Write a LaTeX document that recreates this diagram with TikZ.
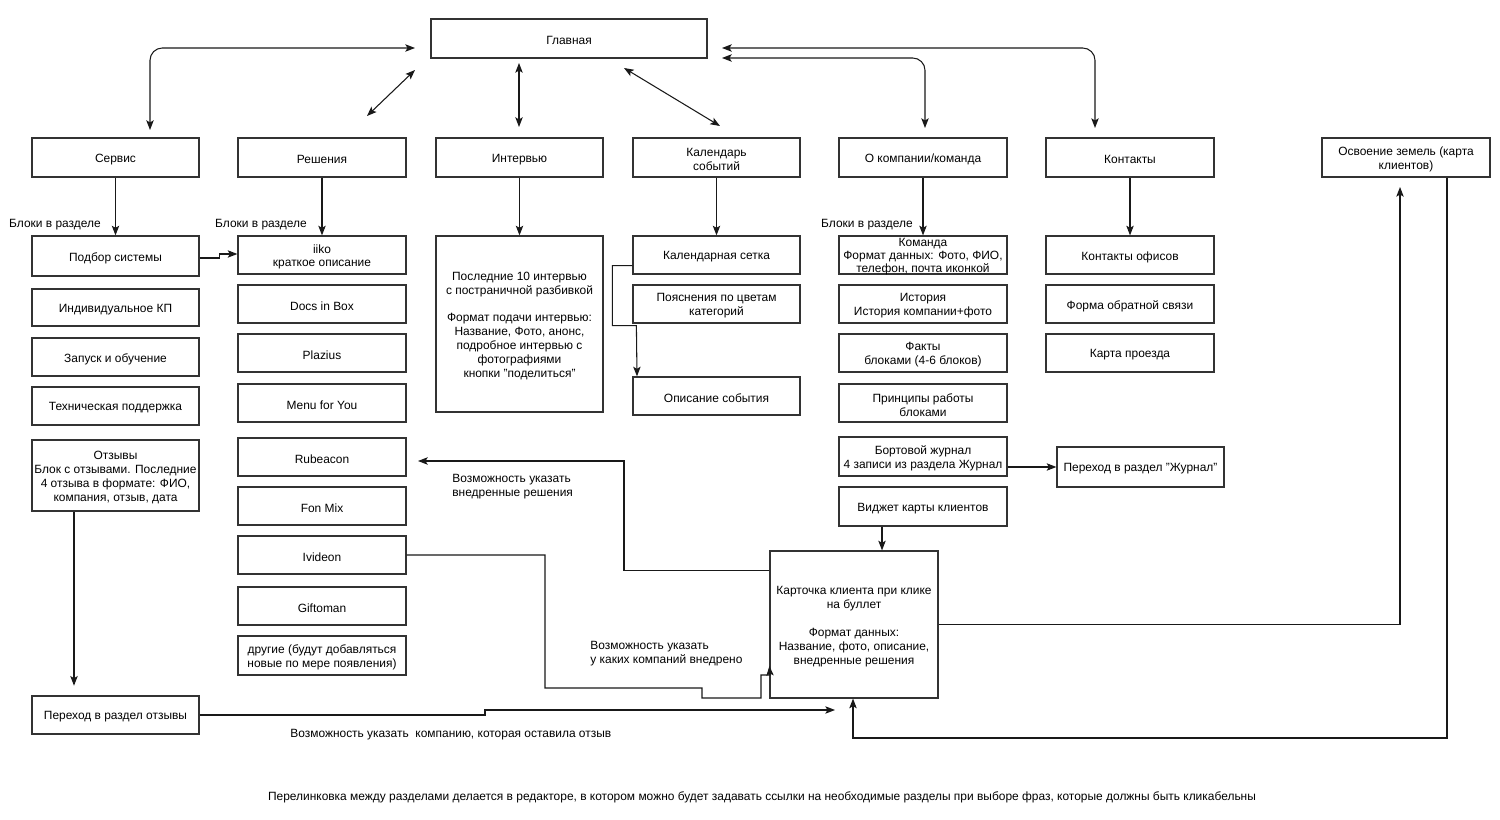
\documentclass[tikz,border=0pt]{standalone}
\usepackage{fontspec}
\setmainfont{Liberation Sans}
\usetikzlibrary{arrows.meta,calc}
\tikzset{
  box/.style={draw=black!80,line width=0.7pt,inner sep=0pt,fill=white},
  txt/.style={inner sep=0pt,align=center},
  conn/.style={line width=0.6pt,draw=black!90},
  lbl/.style={inner sep=0pt,align=left},
  >={Stealth[length=5.5pt,width=4.2pt,inset=1.2pt]}
}
\newcommand\bx[7][]{%
  \node[box,minimum width={(#5-#3)*0.02cm},minimum height={(#6-#4)*0.02cm}] (#2) at ({(#3+#5)/2},{(#4+#6)/2}) {};
  \node[txt,#1] (#2t) at ([yshift=-1.1pt]#2.center) {#7};}
\begin{document}
\begin{tikzpicture}[x=0.02cm,y=-0.02cm,font=\fontsize{6.8}{7.9}\selectfont]
\useasboundingbox[fill=white] (0,0) rectangle (1500,820);
% main
\bx{main}{431}{19}{707}{58}{Главная}
% headers
\bx{srv}{32}{138}{199}{177}{Сервис}
\bx{res}{238}{138}{406}{177}{Решения}
\bx{int}{436}{138}{603}{177}{Интервью}
\bx{cal}{633}{138}{800}{177}{Календарь\\событий}
\bx{abt}{839}{138}{1007}{177}{О компании/команда}
\bx{con}{1046}{138}{1214}{177}{Контакты}
\bx{osv}{1322}{138}{1490}{177}{Освоение земель (карта\\клиентов)}
% service
\bx{s1}{32}{236}{199}{276}{Подбор системы}
\bx{s2}{32}{289}{199}{326}{Индивидуальное КП}
\bx{s3}{32}{338}{199}{376}{Запуск и обучение}
\bx{s4}{32}{387}{199}{425}{Техническая поддержка}
\bx{s5}{32}{440}{199}{511}{Отзывы\\Блок с отзывами. Последние\\4 отзыва в формате: ФИО,\\компания, отзыв, дата}
\bx{s6}{32}{696}{199}{734}{Переход в раздел отзывы}
% solutions
\bx{r1}{238}{236}{406}{274}{iiko\\краткое описание}
\bx{r2}{238}{285}{406}{323}{Docs in Box}
\bx{r3}{238}{334}{406}{372}{Plazius}
\bx{r4}{238}{384}{406}{422}{Menu for You}
\bx{r5}{238}{438}{406}{476}{Rubeacon}
\bx{r6}{238}{487}{406}{525}{Fon Mix}
\bx{r7}{238}{536}{406}{574}{Ivideon}
\bx{r8}{238}{587}{406}{625}{Giftoman}
\bx{r9}{238}{636}{406}{675}{другие (будут добавляться\\новые по мере появления)}
% interview
\bx{i1}{436}{236}{603}{412}{Последние 10 интервью\\с постраничной разбивкой\\[7.9pt]Формат подачи интервью:\\Название, Фото, анонс,\\подробное интервью с\\фотографиями\\кнопки "поделиться"}
% calendar
\bx{c1}{633}{236}{800}{274}{Календарная сетка}
\bx{c2}{633}{285}{800}{323}{Пояснения по цветам\\категорий}
\bx{c3}{633}{377}{800}{415}{Описание события}
% about
\bx[font=\fontsize{6.8}{7.5}\selectfont]{a1}{839}{236}{1007}{274}{Команда\\Формат данных: Фото, ФИО,\\телефон, почта иконкой}
\bx{a2}{839}{285}{1007}{323}{История\\История компании+фото}
\bx{a3}{839}{334}{1007}{372}{Факты\\блоками (4-6 блоков)}
\bx{a4}{839}{384}{1007}{422}{Принципы работы\\блоками}
\bx{a5}{839}{437}{1007}{476}{Бортовой журнал\\4 записи из раздела Журнал}
\bx{a6}{839}{487}{1007}{526}{Виджет карты клиентов}
\bx{jr}{1057}{447}{1224}{487}{Переход в раздел "Журнал"}
% contacts
\bx{k1}{1046}{236}{1214}{274}{Контакты офисов}
\bx{k2}{1046}{285}{1214}{323}{Форма обратной связи}
\bx{k3}{1046}{334}{1214}{372}{Карта проезда}
% card
\bx{kc}{770}{551}{938}{698}{Карточка клиента при клике\\на буллет\\[7.9pt]Формат данных:\\Название, фото, описание,\\внедренные решения}

% coordinates for free ends
\coordinate (m1) at (415,48);  \coordinate (sv) at (150,130);
\coordinate (m2) at (415,70);  \coordinate (rs) at (367,116);
\coordinate (m3) at (519,63);  \coordinate (iv) at (519,127);
\coordinate (m4) at (624,68);  \coordinate (cl) at (720,126);
\coordinate (m5) at (722,58);  \coordinate (ab) at (925,128);
\coordinate (m6) at (722,48);  \coordinate (ct) at (1095,128);
\coordinate (rb) at (418,461);
\coordinate (ot) at (835,710);
\coordinate (ov) at (1400,187);

% top connectors
\draw[conn,<->,rounded corners=7pt] (sv) |- (m1);
\draw[conn,<->] (rs) -- (m2);
\draw[conn,<->] (iv) -- (m3);
\draw[conn,<->] (cl) -- (m4);
\draw[conn,<->,rounded corners=7pt] (m5) -| (ab);
\draw[conn,<->,rounded corners=7pt] (m6) -| (ct);

% header to blocks
\draw[conn,->] (srv.south) -- (s1.north);
\draw[conn,->] (res.south) -- (r1.north);
\draw[conn,->] (int.south) -- (i1.north);
\draw[conn,->] (cal.south) -- (c1.north);
\draw[conn,->] (abt.south) -- (a1.north);
\draw[conn,->] (con.south) -- (k1.north);

\node[lbl] (l1) at (55,225) {Блоки в разделе};
\node[lbl] (l2) at (261,225) {Блоки в разделе};
\node[lbl] (l3) at (867,225) {Блоки в разделе};

% Подбор -> iiko
\draw[conn,->] ($(s1.east)+(0,2)$) -- ++(20,0) |- ($(r1.west)+(0,-1)$);
% calendar
\draw[conn,->] ($(c1.south west)+(0,-9)$) -- ++(-20,0) -- ++(0,60) -- ++(24,0) -- (c3.north -| 637,0);
% journal
\draw[conn,->] (a5.east |- jr.west) -- (jr.west);
% widget -> card
\draw[conn,->] (a6.south -| 882,0) -- (kc.north -| 882,0);
% card -> rubeacon
\draw[conn,->] ($(kc.north west)+(0,20)$) -| (624,461) -- (rb);
\node[lbl,anchor=west] (t1) at (452,487) {Возможность указать\\внедренные решения};
% ivideon -> card
\draw[conn,->] (r7.east) -- (545,555) -- (545,688) -- (702,688) -- (702,698) -- (761,698) -- (761,675) -- (770,675) -- (kc.west |- 0,666);
\node[lbl,anchor=west] (t2) at (590,654) {Возможность указать\\у каких компаний внедрено};
% otzyvy -> card
\draw[conn,->] (s6.east) -- (485,715) -- (485,710) -- (ot);
\node[lbl,anchor=west] (t3) at (290,735) {Возможность указать\ \ компанию, которая оставила отзыв};
% otzyvy down
\draw[conn,->,shorten >=5.5pt] (s5.south -| 74,0) -- (s6.north -| 74,0);
% card -> osvoenie
\draw[conn,->] (kc.east) -| (ov);
% osvoenie -> card
\draw[conn,->] (osv.south -| 1447,0) |- (853,738) -- (kc.south -| 853,0);

\node[lbl] (t4) at (762,797) {Перелинковка между разделами делается в редакторе, в котором можно будет задавать ссылки на необходимые разделы при выборе фраз, которые должны быть кликабельны};
\end{tikzpicture}
\end{document}
